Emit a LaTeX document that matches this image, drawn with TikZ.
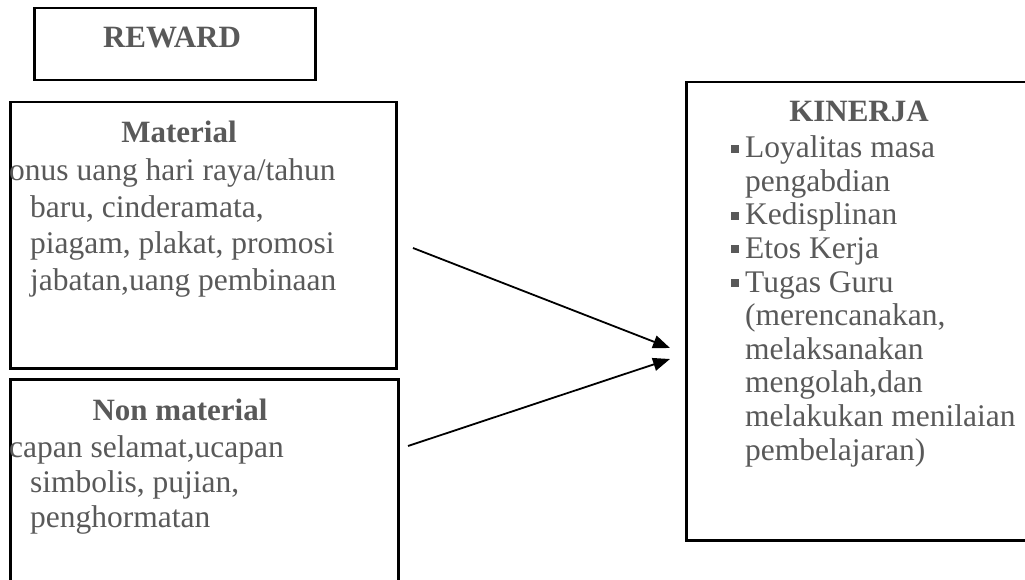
\documentclass[tikz,border=0pt]{standalone}
\usepackage{fontspec}
\setmainfont{Liberation Serif}
\usepackage{xcolor}
\usetikzlibrary{positioning, arrows.meta}
\definecolor{textgray}{RGB}{89,89,89}
\newcommand{\bul}{\makebox[14pt][l]{\textcolor{textgray}{\rule[5pt]{8pt}{8pt}}}}

\begin{document}
\begin{tikzpicture}[x=1pt, y=-1pt,
    box/.style={draw, line width=2.5pt, inner sep=0pt, anchor=north west},
    head/.style={text=textgray, inner sep=0pt, anchor=base, font=\fontsize{31}{36}\selectfont\bfseries},
    body/.style={text=textgray, inner sep=0pt, anchor=base west, align=left, font=\fontsize{31.5}{36.5}\selectfont},
    link/.style={line width=1.8pt, -{Triangle[length=17pt,width=13pt]}}]
    \useasboundingbox (0,0) rectangle (1025,580);
    \clip (0,0) rectangle (1025,580);

    \node[box, minimum width=281pt, minimum height=72pt] (reward) at (33,7) {};
    \node[box, minimum width=386pt, minimum height=266pt] (material) at (9,101) {};
    \node[box, minimum width=388pt, minimum height=250pt] (nonmaterial) at (9,378) {};
    \node[box, minimum width=400pt, minimum height=458pt] (kinerja) at (685,81) {};

    \node[head] (reward-title) at (172,48) {REWARD};

    % teks: anchor base = baris terakhir
    \node[head] (material-title) at (179,143) {Material};
    \node[body] (material-text) at (9,290) {onus uang hari raya/tahun\\
        \hspace*{21pt}baru, cinderamata,\\
        \hspace*{21pt}piagam, plakat, promosi\\
        \hspace*{21pt}jabatan,uang pembinaan};

    \node[head] (nonmaterial-title) at (180,420) {Non material};
    \node[body, font=\fontsize{31.5}{35}\selectfont] (nonmaterial-text) at (9,527) {capan selamat,ucapan\\
        \hspace*{21pt}simbolis, pujian,\\
        \hspace*{21pt}penghormatan};

    \node[head] (kinerja-title) at (859,122) {KINERJA};
    \node[body, font=\fontsize{31.5}{33.6}\selectfont] (kinerja-text) at (731,460) {\bul Loyalitas masa\\
        \hspace*{14pt}pengabdian\\
        \bul Kedisplinan\\
        \bul Etos Kerja\\
        \bul Tugas Guru\\
        \hspace*{14pt}(merencanakan,\\
        \hspace*{14pt}melaksanakan\\
        \hspace*{14pt}mengolah,dan\\
        \hspace*{14pt}melakukan menilaian\\
        \hspace*{14pt}pembelajaran)};

    % panah ke kinerja
    \coordinate (from-material) at (413,248);
    \coordinate (from-nonmaterial) at (408,446);
    \coordinate (to-kinerja-a) at (670,348);
    \coordinate (to-kinerja-b) at (670,359);
    \draw[link] (from-material) -- (to-kinerja-a);
    \draw[link] (from-nonmaterial) -- (to-kinerja-b);
\end{tikzpicture}
\end{document}
